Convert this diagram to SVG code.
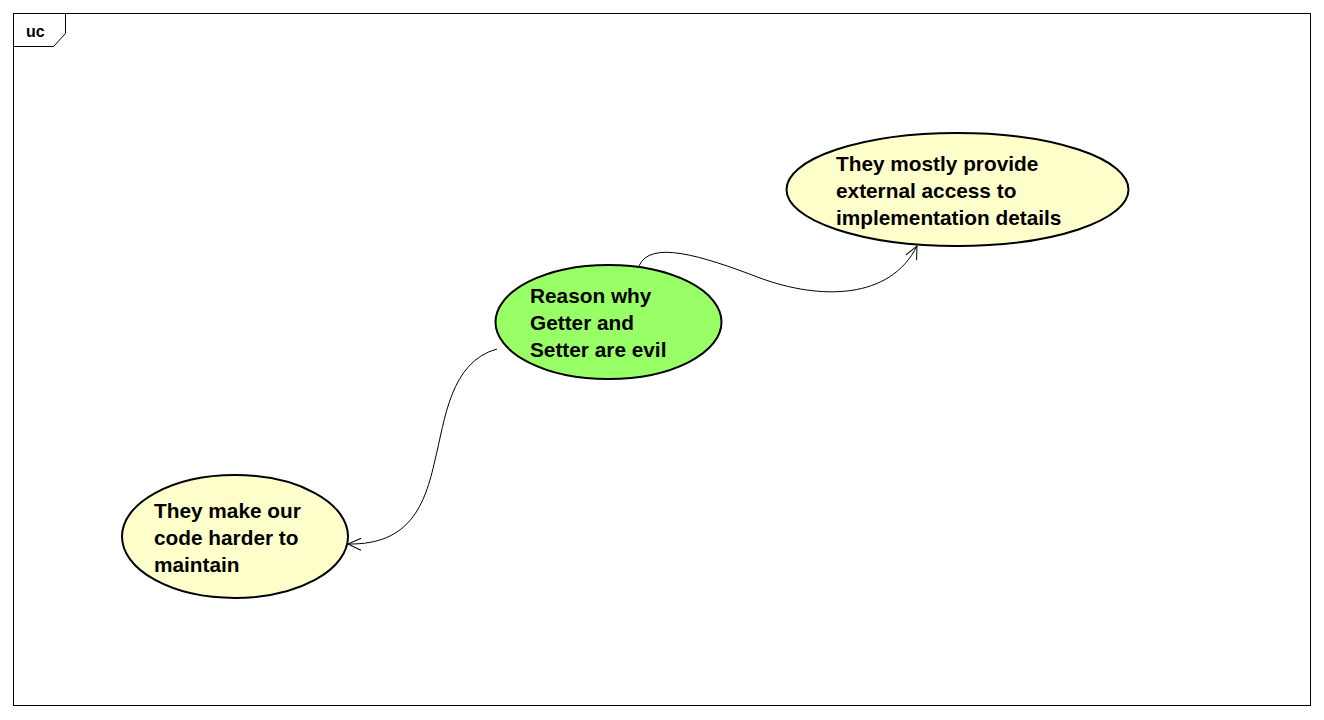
<svg xmlns="http://www.w3.org/2000/svg" width="1324" height="720" viewBox="0 0 1324 720">
<style>
.node{stroke:#000;stroke-width:2}
.lbl{font-family:"Liberation Sans",Arial,sans-serif;font-weight:bold;font-size:20.8px;fill:#000}
.conn{fill:none;stroke:#000;stroke-width:1}
</style>
<defs>
<marker id="arr" markerWidth="16" markerHeight="16" refX="14" refY="8" orient="auto" markerUnits="userSpaceOnUse">
<path d="M1,2 L14,8 L1,14" fill="none" stroke="#000" stroke-width="1"/>
</marker>
</defs>
<rect width="1324" height="720" fill="#fff"/>
<g id="frame">
<rect x="13.5" y="13.5" width="1297" height="692" fill="none" stroke="#000" stroke-width="1"/>
<path d="M13.5,46.5 L53.5,46.5 L65.5,33.5 L65.5,13.5" fill="none" stroke="#000" stroke-width="1"/>
<text x="26" y="37" style="font-family:'Liberation Sans',Arial,sans-serif;font-weight:bold;font-size:16px">uc</text>
</g>
<g id="connectors">
<path class="conn" d="M639,266 C650,240 700,255 760,278 C820,300 890,300 917,246" marker-end="url(#arr)"/>
<path class="conn" d="M497,349 C450,362 445,420 435,460 C425,505 410,545 348,544" marker-end="url(#arr)"/>
</g>
<g id="reason">
<ellipse class="node" cx="608.5" cy="322" rx="113" ry="57" fill="#99FF66"/>
<text class="lbl"><tspan x="530" y="303">Reason why</tspan><tspan x="530" y="330">Getter and</tspan><tspan x="530" y="357">Setter are evil</tspan></text>
</g>
<g id="access">
<ellipse class="node" cx="957.5" cy="189.5" rx="171" ry="56.5" fill="#FFFFCC"/>
<text class="lbl"><tspan x="836" y="171">They mostly provide</tspan><tspan x="836" y="198">external access to</tspan><tspan x="836" y="225">implementation details</tspan></text>
</g>
<g id="maintain">
<ellipse class="node" cx="235" cy="536.5" rx="113" ry="61.5" fill="#FFFFCC"/>
<text class="lbl"><tspan x="154" y="518">They make our</tspan><tspan x="154" y="545">code harder to</tspan><tspan x="154" y="572">maintain</tspan></text>
</g>
</svg>
